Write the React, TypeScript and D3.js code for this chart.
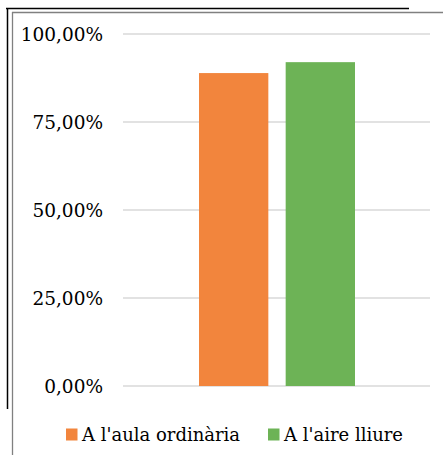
import React from "react";
import * as d3 from "d3";

const seriesNames = ["A l'aula ordinària", "A l'aire lliure"];
const seriesValues = [0.889, 0.92];
const seriesColors = ["#F2853D", "#6DB356"];
const yTicks = [0, 0.25, 0.5, 0.75, 1];

const W = 443;
const H = 455;

export default function App() {
  const x0 = 123, x1 = 430, yTop = 34, yBot = 386;
  const y = d3.scaleLinear().domain([0, 1]).range([yBot, yTop]);
  const xb = d3.scaleBand().domain(seriesNames).range([199, 355]).paddingInner(0.2);
  const fmt = (v: number) => (v * 100).toFixed(2).replace(".", ",") + "%";
  const font = "DejaVu Serif";
  return (
    <svg width={W} height={H} style={{ position: "absolute", left: 0, top: 0, background: "#fff" }}>
      <rect x={0} y={0} width={W} height={H} fill="#fff" />
      <line x1={6} x2={409} y1={8.5} y2={8.5} stroke="#000" strokeWidth={1.5} />
      <line x1={7.5} x2={7.5} y1={8} y2={409} stroke="#000" strokeWidth={1.5} />
      <line x1={12} x2={443} y1={12.5} y2={12.5} stroke="#808080" strokeWidth={1.3} />
      <line x1={12.5} x2={12.5} y1={12} y2={455} stroke="#808080" strokeWidth={1.3} />
      {yTicks.map((t) => (
        <g key={t}>
          <line x1={x0} x2={x1} y1={y(t)} y2={y(t)} stroke="#d9d9d9" strokeWidth={1.3} />
          <text x={103} y={y(t) + 7} textAnchor="end" fontFamily={font} fontSize={18.5} fill="#000">
            {fmt(t)}
          </text>
        </g>
      ))}
      {seriesNames.map((n, i) => (
        <rect key={n} x={xb(n)} y={y(seriesValues[i])} width={xb.bandwidth()} height={yBot - y(seriesValues[i])} fill={seriesColors[i]} />
      ))}
      {seriesNames.map((n, i) => {
        const lx = i === 0 ? 66 : 268;
        return (
          <g key={"l" + n}>
            <rect x={lx} y={428.5} width={11.5} height={12} fill={seriesColors[i]} />
            <text x={lx + 16} y={441} fontFamily={font} fontSize={18} fill="#000">{n}</text>
          </g>
        );
      })}
    </svg>
  );
}
